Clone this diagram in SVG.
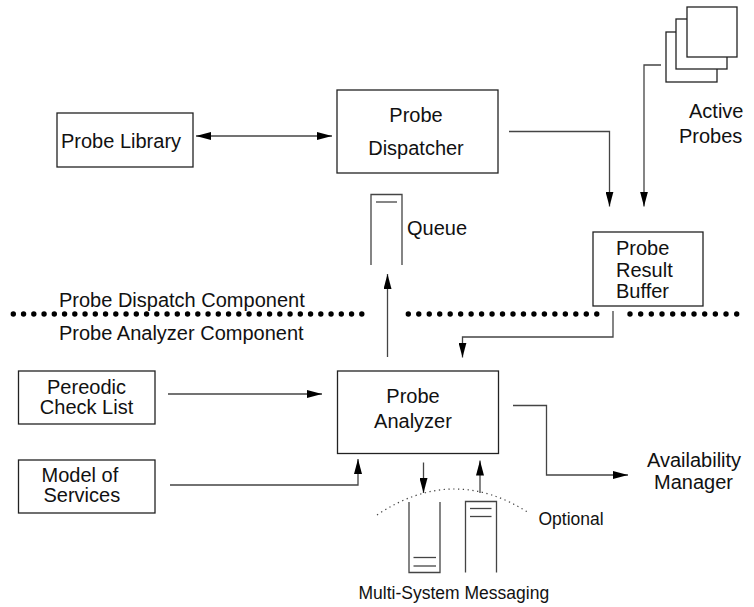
<svg xmlns="http://www.w3.org/2000/svg" width="754" height="607" viewBox="0 0 754 607">
<defs>
<style>
.box{fill:#fff;stroke:#222;stroke-width:1.3}
.ln{fill:none;stroke:#444;stroke-width:1.3}
.t{font-family:"Liberation Sans",Arial,sans-serif;font-size:20px;fill:#111}
.s{font-family:"Liberation Sans",Arial,sans-serif;font-size:17.5px;fill:#111}
.dot{fill:#000}
</style>
<marker id="ah" viewBox="0 0 15 8" refX="15" refY="4" markerWidth="15" markerHeight="8" markerUnits="userSpaceOnUse" orient="auto-start-reverse">
<path d="M0,0 L15,4 L0,8 z" fill="#000"/>
</marker>
</defs>
<rect width="754" height="607" fill="#fff"/>

<g id="probe-library">
<rect class="box" x="57" y="113" width="136" height="54"/>
<text class="t" x="61" y="148">Probe Library</text>
</g>

<g id="probe-dispatcher">
<rect class="box" x="337" y="90" width="161" height="83"/>
<text class="t" x="416" y="122" text-anchor="middle">Probe</text>
<text class="t" x="416" y="155" text-anchor="middle">Dispatcher</text>
</g>

<g id="queue">
<path class="ln" d="M371,265 V194.5 H402 V265"/>
<line class="ln" x1="376" y1="202" x2="397" y2="202"/>
<text class="t" x="407" y="235">Queue</text>
</g>

<g id="active-probes">
<rect class="box" x="666" y="32" width="51" height="50"/>
<rect class="box" x="676" y="19" width="51" height="50"/>
<rect class="box" x="687" y="7" width="50" height="50"/>
<text class="t" x="689" y="118">Active</text>
<text class="t" x="679" y="143">Probes</text>
</g>

<g id="probe-result-buffer">
<rect class="box" x="593" y="232" width="110" height="74"/>
<text class="t" x="616" y="255">Probe</text>
<text class="t" x="616" y="276.5">Result</text>
<text class="t" x="616" y="297.5">Buffer</text>
</g>

<g id="divider">
<text class="t" x="59" y="306.5">Probe Dispatch Component</text>
<text class="t" x="59" y="340">Probe Analyzer Component</text>
<g class="dot">
<circle cx="13.3" cy="314" r="2.7"/><circle cx="23.55" cy="314" r="2.7"/><circle cx="33.8" cy="314" r="2.7"/><circle cx="44.05" cy="314" r="2.7"/><circle cx="54.3" cy="314" r="2.7"/><circle cx="64.55" cy="314" r="2.7"/><circle cx="74.8" cy="314" r="2.7"/><circle cx="85.05" cy="314" r="2.7"/><circle cx="95.3" cy="314" r="2.7"/><circle cx="105.55" cy="314" r="2.7"/><circle cx="115.8" cy="314" r="2.7"/><circle cx="126.05" cy="314" r="2.7"/><circle cx="136.3" cy="314" r="2.7"/><circle cx="146.55" cy="314" r="2.7"/><circle cx="156.8" cy="314" r="2.7"/><circle cx="167.05" cy="314" r="2.7"/><circle cx="177.3" cy="314" r="2.7"/><circle cx="187.55" cy="314" r="2.7"/><circle cx="197.8" cy="314" r="2.7"/><circle cx="208.05" cy="314" r="2.7"/><circle cx="218.3" cy="314" r="2.7"/><circle cx="228.55" cy="314" r="2.7"/><circle cx="238.8" cy="314" r="2.7"/><circle cx="249.05" cy="314" r="2.7"/><circle cx="259.3" cy="314" r="2.7"/><circle cx="269.55" cy="314" r="2.7"/><circle cx="279.8" cy="314" r="2.7"/><circle cx="290.05" cy="314" r="2.7"/><circle cx="300.3" cy="314" r="2.7"/><circle cx="310.55" cy="314" r="2.7"/><circle cx="320.8" cy="314" r="2.7"/><circle cx="331.05" cy="314" r="2.7"/><circle cx="341.3" cy="314" r="2.7"/><circle cx="351.55" cy="314" r="2.7"/><circle cx="361.8" cy="314" r="2.7"/>
<circle cx="408.3" cy="314" r="2.7"/><circle cx="418.77" cy="314" r="2.7"/><circle cx="429.24" cy="314" r="2.7"/><circle cx="439.71" cy="314" r="2.7"/><circle cx="450.18" cy="314" r="2.7"/><circle cx="460.65" cy="314" r="2.7"/><circle cx="471.12" cy="314" r="2.7"/><circle cx="481.59" cy="314" r="2.7"/><circle cx="492.06" cy="314" r="2.7"/><circle cx="502.53" cy="314" r="2.7"/><circle cx="513" cy="314" r="2.7"/><circle cx="523.47" cy="314" r="2.7"/><circle cx="533.94" cy="314" r="2.7"/><circle cx="544.41" cy="314" r="2.7"/><circle cx="554.88" cy="314" r="2.7"/><circle cx="565.35" cy="314" r="2.7"/><circle cx="575.82" cy="314" r="2.7"/><circle cx="586.29" cy="314" r="2.7"/><circle cx="596.76" cy="314" r="2.7"/>
<circle cx="630" cy="314" r="2.7"/><circle cx="640.67" cy="314" r="2.7"/><circle cx="651.34" cy="314" r="2.7"/><circle cx="662.01" cy="314" r="2.7"/><circle cx="672.68" cy="314" r="2.7"/><circle cx="683.35" cy="314" r="2.7"/><circle cx="694.02" cy="314" r="2.7"/><circle cx="704.69" cy="314" r="2.7"/><circle cx="715.36" cy="314" r="2.7"/><circle cx="726.03" cy="314" r="2.7"/><circle cx="736.7" cy="314" r="2.7"/>
</g>
</g>

<g id="pereodic-check-list">
<rect class="box" x="18.5" y="371" width="136.5" height="53"/>
<text class="t" x="86.5" y="393.5" text-anchor="middle">Pereodic</text>
<text class="t" x="86.5" y="413.5" text-anchor="middle">Check List</text>
</g>

<g id="model-of-services">
<rect class="box" x="18.5" y="460" width="136.5" height="53"/>
<text class="t" x="41.5" y="481.5">Model of</text>
<text class="t" x="43.5" y="501.5">Services</text>
</g>

<g id="probe-analyzer">
<rect class="box" x="337.5" y="371" width="161" height="82.5"/>
<text class="t" x="413" y="403" text-anchor="middle">Probe</text>
<text class="t" x="413" y="428" text-anchor="middle">Analyzer</text>
</g>

<g id="availability-manager">
<text class="t" x="647" y="466.5">Availability</text>
<text class="t" x="654" y="489">Manager</text>
</g>

<g id="multi-system-messaging">
<path class="ln" d="M409,502 V572.5 H440 V502"/>
<line class="ln" x1="413.5" y1="557.5" x2="436" y2="557.5"/>
<line class="ln" x1="413.5" y1="566" x2="436" y2="566"/>
<path class="ln" d="M465.5,572.5 V501.5 H496.5 V572.5"/>
<line class="ln" x1="470" y1="508.5" x2="491.5" y2="508.5"/>
<line class="ln" x1="470" y1="516.5" x2="491.5" y2="516.5"/>
<path d="M377,515 Q453,464 529,513" fill="none" stroke="#444" stroke-width="1.2" stroke-dasharray="1.3,3.5"/>
<text class="s" x="538.5" y="525">Optional</text>
<text class="s" x="358.5" y="598.5">Multi-System Messaging</text>
</g>

<g id="connectors">
<line class="ln" x1="196" y1="136" x2="332" y2="136" marker-start="url(#ah)" marker-end="url(#ah)"/>
<path class="ln" d="M509,131.5 H609.5 V206.5" marker-end="url(#ah)"/>
<path class="ln" d="M661,65 H644 V206.5" marker-end="url(#ah)"/>
<line class="ln" x1="387.5" y1="357" x2="387.5" y2="274" marker-end="url(#ah)"/>
<path class="ln" d="M613,311 V337 H462.5 V357.5" marker-end="url(#ah)"/>
<line class="ln" x1="168" y1="394" x2="322" y2="394" marker-end="url(#ah)"/>
<path class="ln" d="M170,485 H358 V459" marker-end="url(#ah)"/>
<path class="ln" d="M513,405.5 H546.5 V475 H628" marker-end="url(#ah)"/>
<line class="ln" x1="423.5" y1="462.5" x2="423.5" y2="493" marker-end="url(#ah)"/>
<line class="ln" x1="480" y1="493" x2="480" y2="460.5" marker-end="url(#ah)"/>
</g>
</svg>
